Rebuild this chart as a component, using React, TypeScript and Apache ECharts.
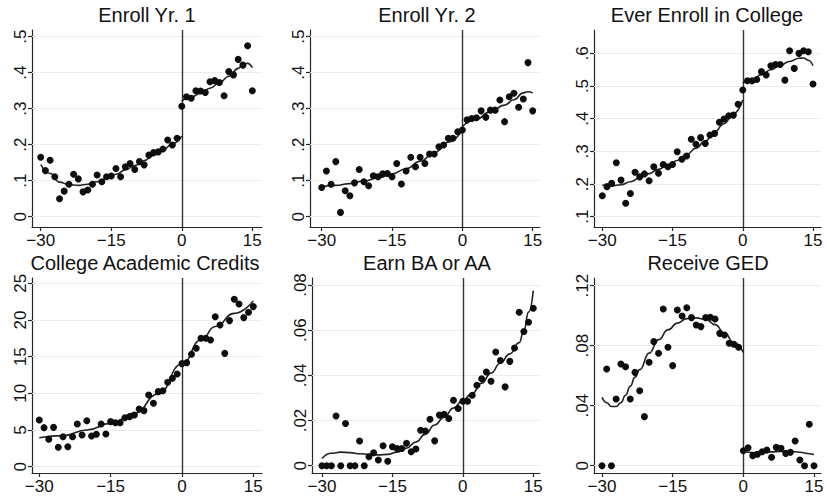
import React, { useEffect, useRef } from "react";
import * as echarts from "echarts";

const X_VALUES = [-30,-29,-28,-27,-26,-25,-24,-23,-22,-21,-20,-19,-18,-17,-16,-15,-14,-13,-12,-11,-10,-9,-8,-7,-6,-5,-4,-3,-2,-1,0,1,2,3,4,5,6,7,8,9,10,11,12,13,14,15];

const TITLES = ["Enroll Yr. 1", "Enroll Yr. 2", "Ever Enroll in College", "College Academic Credits", "Earn BA or AA", "Receive GED"];

const ENROLL_YR1 = [.165,.128,.157,.111,.05,.071,.09,.118,.105,.069,.074,.09,.116,.097,.111,.113,.134,.111,.139,.148,.131,.153,.144,.171,.178,.18,.188,.213,.199,.218,.307,.333,.329,.35,.349,.345,.375,.378,.373,.336,.403,.394,.437,.421,.475,.35];
const ENROLL_YR2 = [.081,.127,.09,.153,.012,.072,.058,.094,.131,.097,.086,.114,.111,.119,.12,.111,.148,.091,.127,.165,.139,.165,.148,.174,.174,.194,.199,.218,.218,.236,.241,.269,.273,.275,.294,.276,.296,.296,.324,.264,.333,.343,.304,.327,.428,.294];
const EVER_ENROLL = [.164,.192,.202,.265,.212,.141,.171,.236,.222,.231,.21,.253,.233,.26,.253,.26,.299,.276,.286,.337,.322,.342,.324,.35,.355,.389,.399,.409,.411,.444,.488,.516,.516,.52,.544,.534,.562,.566,.566,.518,.608,.554,.6,.608,.605,.506];
const CREDITS = [6.36,5.32,3.73,5.36,2.64,4.09,2.73,4.09,5.82,4.32,6.27,4.18,4.41,5.82,4.45,6.14,6.0,6.0,6.68,6.82,7.05,7.86,7.64,9.77,8.64,10.23,10.36,11.5,12.05,12.64,14.05,14.18,15.32,16.14,17.5,17.5,17.27,20.45,19.32,15.45,19.91,22.82,22.18,20.32,21.05,21.82];
const EARN_BA = [0,0,0,.022,0,.0187,0,0,.0109,0,.004,.0057,.0025,.0088,.002,.0084,.0076,.0076,.0099,.0062,.0074,.0157,.0154,.0206,.011,.0224,.0228,.0209,.029,.0253,.0285,.0285,.0312,.0356,.0385,.0415,.0374,.0503,.0466,.0349,.0462,.0521,.0679,.0594,.0635,.0697];
const RECEIVE_GED = [0,.0644,0,.0444,.0678,.066,.0444,.0622,.05,.0327,.0689,.0827,.0749,.1044,.0789,.0667,.1038,.0998,.1053,.0987,.0938,.0927,.0987,.0989,.0978,.0882,.0871,.0816,.0809,.0789,.01,.012,.0067,.0076,.0093,.0104,.0056,.0122,.0116,.0082,.0089,.0164,.0038,0,.0276,0];

const FIT_YR1_LEFT = [[-30,.145],[-28,.12],[-26,.096],[-24,.089],[-22,.087],[-20,.09],[-18,.097],[-16,.106],[-14,.118],[-12,.13],[-10,.142],[-8,.156],[-6,.17],[-4,.185],[-2,.203],[0,.224]];
const FIT_YR1_RIGHT = [[0,.321],[2,.332],[4,.343],[6,.357],[8,.372],[10,.39],[12,.412],[13,.423],[14,.426],[15,.414]];
const FIT_YR2_LEFT = [[-30,.083],[-27,.087],[-24,.092],[-21,.099],[-18,.108],[-15,.119],[-12,.133],[-9,.154],[-6,.178],[-3,.207],[0,.241]];
const FIT_YR2_RIGHT = [[0,.25],[3,.271],[6,.292],[9,.31],[11,.325],[13,.344],[14,.347],[15,.344]];
const FIT_EVER_LEFT = [[-30,.197],[-28,.194],[-26,.198],[-24,.207],[-22,.219],[-20,.232],[-18,.245],[-16,.258],[-14,.272],[-12,.29],[-10,.31],[-8,.332],[-6,.36],[-4,.385],[-2,.415],[0,.457]];
const FIT_EVER_RIGHT = [[0,.508],[2,.52],[4,.535],[6,.55],[8,.563],[10,.575],[12,.585],[13,.586],[14,.579],[15,.562]];
const FIT_CREDITS = [[-30,3.95],[-25,4.23],[-20,5.0],[-15,5.9],[-10,7.27],[-5,9.9],[0,14.0],[4,17.27],[7,19.1],[11,20.9],[15,22.6]];
const FIT_BA = [[-30,.0032],[-28,.0055],[-26,.006],[-24,.0058],[-22,.0053],[-20,.005],[-18,.0048],[-16,.005],[-14,.006],[-12,.0078],[-10,.0105],[-8,.014],[-6,.018],[-4,.0215],[-2,.0255],[0,.029],[2,.032],[4,.0365],[6,.041],[8,.0455],[10,.0495],[12,.0545],[13,.06],[14,.068],[15,.0775]];
const FIT_GED_LEFT = [[-30,.0455],[-29,.042],[-28,.0395],[-27,.0395],[-26,.042],[-25,.047],[-24,.053],[-23,.059],[-22,.064],[-20,.075],[-18,.084],[-16,.0905],[-14,.095],[-12,.098],[-10,.0985],[-8,.0975],[-6,.094],[-4,.0885],[-2,.082],[0,.0755]];
const FIT_GED_RIGHT = [[0,.0095],[2,.0088],[4,.0088],[6,.0092],[8,.0095],[10,.0095],[12,.009],[14,.008],[15,.0075]];

const X_TICKS = [-30, -15, 0, 15];
const X_TICK_LABELS = ["\u221230", "\u221215", "0", "15"];
const Y_TICKS_PROP = [0, .1, .2, .3, .4, .5];
const Y_LABELS_PROP = ["0", ".1", ".2", ".3", ".4", ".5"];
const Y_TICKS_EVER = [.1, .2, .3, .4, .5, .6];
const Y_LABELS_EVER = [".1", ".2", ".3", ".4", ".5", ".6"];
const Y_TICKS_CREDITS = [0, 5, 10, 15, 20, 25];
const Y_LABELS_CREDITS = ["0", "5", "10", "15", "20", "25"];
const Y_TICKS_BA = [0, .02, .04, .06, .08];
const Y_LABELS_BA = ["0", ".02", ".04", ".06", ".08"];
const Y_TICKS_GED = [0, .04, .08, .12];
const Y_LABELS_GED = ["0", ".04", ".08", ".12"];

const FONT = '"Liberation Sans", Arial, Helvetica, sans-serif';

const PANELS = [
  { title: TITLES[0], values: ENROLL_YR1, fits: [FIT_YR1_LEFT, FIT_YR1_RIGHT], yTicks: Y_TICKS_PROP, yLabels: Y_LABELS_PROP,
    left: 32, right: 262, top: 30, bottom: 227, xMin: -31.85, xMax: 17.06, yMin: -0.0286, yMax: 0.5186, titleX: 147, titleY: 15 },
  { title: TITLES[1], values: ENROLL_YR2, fits: [FIT_YR2_LEFT, FIT_YR2_RIGHT], yTicks: Y_TICKS_PROP, yLabels: Y_LABELS_PROP,
    left: 310, right: 540, top: 30, bottom: 227, xMin: -32.5, xMax: 16.56, yMin: -0.0286, yMax: 0.5186, titleX: 427, titleY: 15 },
  { title: TITLES[2], values: EVER_ENROLL, fits: [FIT_EVER_LEFT, FIT_EVER_RIGHT], yTicks: Y_TICKS_EVER, yLabels: Y_LABELS_EVER,
    left: 594, right: 821, top: 30, bottom: 227, xMin: -31.77, xMax: 16.71, yMin: 0.0685, yMax: 0.6715, titleX: 707, titleY: 15 },
  { title: TITLES[3], values: CREDITS, fits: [FIT_CREDITS], yTicks: Y_TICKS_CREDITS, yLabels: Y_LABELS_CREDITS,
    left: 32, right: 262, top: 278, bottom: 473, xMin: -31.53, xMax: 16.83, yMin: -0.86, yMax: 25.72, titleX: 145, titleY: 263 },
  { title: TITLES[4], values: EARN_BA, fits: [FIT_BA], yTicks: Y_TICKS_BA, yLabels: Y_LABELS_BA,
    left: 312, right: 540, top: 278, bottom: 473, xMin: -32.13, xMax: 16.43, yMin: -0.00323, yMax: 0.0831, titleX: 427, titleY: 263 },
  { title: TITLES[5], values: RECEIVE_GED, fits: [FIT_GED_LEFT, FIT_GED_RIGHT], yTicks: Y_TICKS_GED, yLabels: Y_LABELS_GED,
    left: 594, right: 821, top: 278, bottom: 473, xMin: -31.7, xMax: 16.49, yMin: -0.00487, yMax: 0.1251, titleX: 708, titleY: 263 },
];

function labelFor(ticks: number[], labels: string[], v: number) {
  for (let i = 0; i < ticks.length; i++) {
    if (Math.abs(ticks[i] - v) < 1e-9) return labels[i];
  }
  return "";
}

export default function App() {
  const ref = useRef<HTMLDivElement>(null);
  useEffect(() => {
    if (!ref.current) return;
    const chart = echarts.init(ref.current, undefined, { renderer: "svg" });
    const AX = "#262626";
    const grid = PANELS.map((p) => ({
      left: p.left, top: p.top, width: p.right - p.left, height: p.bottom - p.top,
      containLabel: false, outerBoundsMode: "none",
    }));
    const xAxis = PANELS.map((p, i) => ({
      type: "value", gridIndex: i, min: p.xMin, max: p.xMax,
      axisLine: { show: true, onZero: false, lineStyle: { color: AX, width: 1.2 } },
      axisTick: { show: true, inside: false, length: 4, customValues: X_TICKS, lineStyle: { color: AX, width: 1.2 } },
      axisLabel: {
        customValues: X_TICKS, fontSize: 17, color: "#111", fontFamily: FONT, margin: 5,
        formatter: (v: number) => labelFor(X_TICKS, X_TICK_LABELS, v),
      },
      splitLine: { show: false },
    }));
    const yAxis = PANELS.map((p, i) => ({
      type: "value", gridIndex: i, min: p.yMin, max: p.yMax,
      axisLine: { show: true, onZero: false, lineStyle: { color: AX, width: 1.2 } },
      axisTick: { show: true, inside: false, length: 4, customValues: p.yTicks, lineStyle: { color: AX, width: 1.2 } },
      axisLabel: {
        customValues: p.yTicks, rotate: 90, fontSize: 17, color: "#111", fontFamily: FONT, margin: 3,
        formatter: (v: number) => labelFor(p.yTicks, p.yLabels, v),
      },
      splitLine: { show: false },
    }));
    const series: any[] = [];
    PANELS.forEach((p, i) => {
      p.fits.forEach((fit, k) => {
        series.push({
          type: "line", xAxisIndex: i, yAxisIndex: i, data: fit, smooth: true, smoothMonotone: "x",
          showSymbol: false, symbol: "none", z: 2, silent: true,
          lineStyle: { color: "#222", width: 1.6 },
          markLine: k === 0 ? {
            silent: true, symbol: ["none", "none"], label: { show: false }, animation: false, z: 1,
            data: [
              ...p.yTicks.map((t) => ({ yAxis: t, lineStyle: { color: "#ececec", width: 1, type: "solid" } })),
              { xAxis: 0, lineStyle: { color: "#333", width: 1.4, type: "solid" } },
            ],
          } : undefined,
        });
      });
      series.push({
        type: "scatter", xAxisIndex: i, yAxisIndex: i, z: 3, symbol: "circle", symbolSize: 7,
        itemStyle: { color: "#0d0d0d", opacity: 1 },
        data: X_VALUES.map((x, j) => [x, p.values[j]]),
      });
    });
    const title = PANELS.map((p) => ({
      text: p.title, left: p.titleX, top: p.titleY, textAlign: "center", textVerticalAlign: "middle", padding: 0,
      textStyle: { fontSize: 20, fontWeight: "normal", color: "#111", fontFamily: FONT },
    }));
    chart.setOption({
      animation: false,
      backgroundColor: "#ffffff",
      title, grid, xAxis, yAxis, series,
    });
    return () => chart.dispose();
  }, []);
  return <div ref={ref} style={{ position: "absolute", left: 0, top: 0, width: 827, height: 503 }} />;
}
